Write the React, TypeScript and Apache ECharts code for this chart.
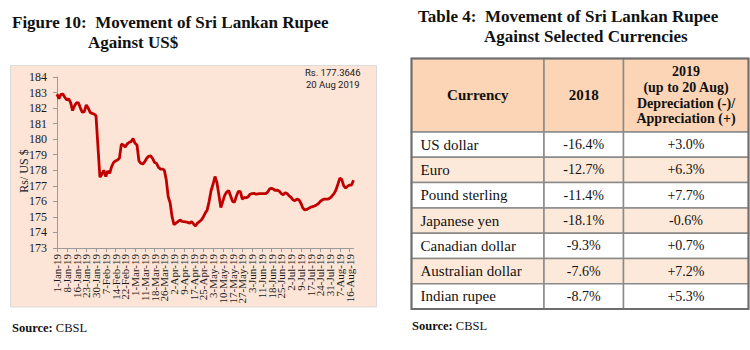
import React, { useEffect, useRef } from "react";
import * as echarts from "echarts";

const dates: string[] = [
  "1-Jan-19", "2-Jan-19", "3-Jan-19", "4-Jan-19", "7-Jan-19",
  "8-Jan-19", "9-Jan-19", "10-Jan-19", "11-Jan-19", "14-Jan-19",
  "16-Jan-19", "17-Jan-19", "18-Jan-19", "21-Jan-19", "22-Jan-19",
  "23-Jan-19", "24-Jan-19", "25-Jan-19", "28-Jan-19", "29-Jan-19",
  "30-Jan-19", "31-Jan-19", "1-Feb-19", "5-Feb-19", "6-Feb-19",
  "7-Feb-19", "8-Feb-19", "11-Feb-19", "12-Feb-19", "13-Feb-19",
  "14-Feb-19", "15-Feb-19", "18-Feb-19", "20-Feb-19", "21-Feb-19",
  "22-Feb-19", "25-Feb-19", "26-Feb-19", "27-Feb-19", "28-Feb-19",
  "1-Mar-19", "5-Mar-19", "6-Mar-19", "7-Mar-19", "8-Mar-19",
  "11-Mar-19", "12-Mar-19", "13-Mar-19", "14-Mar-19", "15-Mar-19",
  "18-Mar-19", "19-Mar-19", "21-Mar-19", "22-Mar-19", "25-Mar-19",
  "26-Mar-19", "27-Mar-19", "28-Mar-19", "29-Mar-19", "1-Apr-19",
  "2-Apr-19", "3-Apr-19", "4-Apr-19", "5-Apr-19", "8-Apr-19",
  "9-Apr-19", "10-Apr-19", "11-Apr-19", "12-Apr-19", "16-Apr-19",
  "17-Apr-19", "18-Apr-19", "22-Apr-19", "23-Apr-19", "24-Apr-19",
  "25-Apr-19", "26-Apr-19", "29-Apr-19", "30-Apr-19", "2-May-19",
  "3-May-19", "6-May-19", "7-May-19", "8-May-19", "9-May-19",
  "10-May-19", "13-May-19", "14-May-19", "15-May-19", "16-May-19",
  "17-May-19", "21-May-19", "22-May-19", "23-May-19", "24-May-19",
  "27-May-19", "28-May-19", "29-May-19", "30-May-19", "31-May-19",
  "3-Jun-19", "4-Jun-19", "6-Jun-19", "7-Jun-19", "10-Jun-19",
  "11-Jun-19", "12-Jun-19", "13-Jun-19", "14-Jun-19", "17-Jun-19",
  "18-Jun-19", "19-Jun-19", "20-Jun-19", "21-Jun-19", "24-Jun-19",
  "25-Jun-19", "26-Jun-19", "27-Jun-19", "28-Jun-19", "1-Jul-19",
  "2-Jul-19", "3-Jul-19", "4-Jul-19", "5-Jul-19", "8-Jul-19",
  "9-Jul-19", "10-Jul-19", "11-Jul-19", "12-Jul-19", "15-Jul-19",
  "17-Jul-19", "18-Jul-19", "19-Jul-19", "22-Jul-19", "23-Jul-19",
  "24-Jul-19", "25-Jul-19", "26-Jul-19", "29-Jul-19", "30-Jul-19",
  "31-Jul-19", "1-Aug-19", "2-Aug-19", "5-Aug-19", "6-Aug-19",
  "7-Aug-19", "8-Aug-19", "9-Aug-19", "13-Aug-19", "15-Aug-19",
  "16-Aug-19", "19-Aug-19", "20-Aug-19",
];

const rupeePerUsd: number[] = [
  182.9, 182.6, 182.88, 182.9, 182.7,
  182.52, 182.6, 182.35, 181.84, 182.15,
  182.35, 182.33, 182.0, 181.73, 181.77,
  182.2, 182.0, 181.72, 181.66, 181.62,
  181.5, 179.5, 177.55, 177.75, 178.0,
  177.6, 177.95, 177.8, 178.23, 178.5,
  178.6, 178.66, 178.77, 179.68, 179.63,
  179.5, 179.7, 179.8, 179.84, 180.05,
  179.74, 179.63, 178.6, 178.45, 178.4,
  178.55, 178.77, 178.9, 178.92, 178.77,
  178.5, 178.45, 178.2, 178.08, 178.08,
  178.02, 177.4, 176.3, 175.9, 175.0,
  174.5, 174.6, 174.7, 174.8, 174.72,
  174.7, 174.68, 174.65, 174.6, 174.7,
  174.55, 174.42, 174.6, 174.7, 174.8,
  175.0, 175.25, 175.45, 176.0, 176.7,
  177.1, 177.6, 177.2, 176.4, 175.6,
  176.0, 176.4, 176.6, 176.7, 176.35,
  176.0, 175.95, 176.35, 176.65, 176.62,
  176.15, 176.25, 176.22, 176.3, 176.46,
  176.5, 176.52, 176.46, 176.48, 176.5,
  176.5, 176.5, 176.5, 176.6, 176.8,
  176.84, 176.78, 176.7, 176.72, 176.65,
  176.5, 176.42, 176.55, 176.5, 176.35,
  176.26, 176.09, 176.05, 176.14, 176.1,
  175.9, 175.58, 175.45, 175.48, 175.55,
  175.62, 175.66, 175.7, 175.77, 175.85,
  176.0, 176.1, 176.14, 176.14, 176.15,
  176.22, 176.35, 176.5, 176.73, 177.1,
  177.5, 177.4, 177.0, 176.85, 176.98,
  177.05, 177.05, 177.3646,
];

const yMin = 173;
const yMax = 184;
const yStep = 1;
const labelEvery = 5;

const figureTitle = ["Figure 10:  Movement of Sri Lankan Rupee", "Against US$"];
const tableTitle = ["Table 4:  Movement of Sri Lankan Rupee", "Against Selected Currencies"];
const annotation = ["Rs. 177.3646", "20 Aug 2019"];
const yAxisName = "Rs/ US $";

const tableHeaders = ["Currency", "2018", "2019\n(up to 20 Aug)\nDepreciation (-)/\nAppreciation (+)"];
const currencies = ["US dollar", "Euro", "Pound sterling", "Japanese yen", "Canadian dollar", "Australian dollar", "Indian rupee"];
const change2018 = ["-16.4%", "-12.7%", "-11.4%", "-18.1%", "-9.3%", "-7.6%", "-8.7%"];
const change2019 = ["+3.0%", "+6.3%", "+7.7%", "-0.6%", "+0.7%", "+7.2%", "+5.3%"];

const SERIF = '"Liberation Serif", "Times New Roman", serif';
const SANS = 'Roboto, "Liberation Sans", sans-serif';

function buildTable(): any[] {
  const colX = [411.5, 544, 623.5, 748.5];
  const headTop = 58.5;
  const headBottom = 132;
  const rowH = 25.3;
  const gridStroke = "#8a8a8a";
  const els: any[] = [];
  for (let c = 0; c < 3; c++) {
    els.push({
      type: "rect",
      shape: { x: colX[c], y: headTop, width: colX[c + 1] - colX[c], height: headBottom - headTop },
      style: { fill: "#FBD5B5", stroke: gridStroke, lineWidth: 1.5 },
    });
    els.push({
      type: "text",
      x: (colX[c] + colX[c + 1]) / 2,
      y: (headTop + headBottom) / 2,
      style: {
        text: tableHeaders[c],
        fill: "#111",
        font: `bold ${c === 2 ? 14 : 15}px ${SERIF}`,
        lineHeight: 15.8,
        textAlign: "center",
        textVerticalAlign: "middle",
      },
    });
  }
  currencies.forEach((name, r) => {
    const y0 = headBottom + r * rowH;
    const fill = r % 2 === 1 ? "#FDE9D9" : "#FFFFFF";
    for (let c = 0; c < 3; c++) {
      els.push({
        type: "rect",
        shape: { x: colX[c], y: y0, width: colX[c + 1] - colX[c], height: rowH },
        style: { fill, stroke: gridStroke, lineWidth: 1.5 },
      });
    }
    els.push({
      type: "text",
      x: colX[0] + 9,
      y: y0 + rowH / 2,
      style: { text: name, fill: "#111", font: `15px ${SERIF}`, textAlign: "left", textVerticalAlign: "middle" },
    });
    els.push({
      type: "text",
      x: (colX[1] + colX[2]) / 2,
      y: y0 + rowH / 2,
      style: { text: change2018[r], fill: "#111", font: `14px ${SERIF}`, textAlign: "center", textVerticalAlign: "middle" },
    });
    els.push({
      type: "text",
      x: (colX[2] + colX[3]) / 2,
      y: y0 + rowH / 2,
      style: { text: change2019[r], fill: "#111", font: `14px ${SERIF}`, textAlign: "center", textVerticalAlign: "middle" },
    });
  });
  els.push({
    type: "rect",
    shape: { x: colX[0], y: headTop, width: colX[3] - colX[0], height: headBottom + rowH * currencies.length - headTop },
    style: { fill: "none", stroke: "#6e6e6e", lineWidth: 2 },
  });
  return els;
}

export default function App() {
  const ref = useRef<HTMLDivElement>(null);

  useEffect(() => {
    document.body.style.margin = "0";
    if (!ref.current) return;
    const chart = echarts.init(ref.current, undefined, { renderer: "svg" });

    const showIdx = (i: number) => i % labelEvery === 0;

    const option: any = {
      animation: false,
      backgroundColor: "#ffffff",
      grid: { left: 57, top: 77, right: 396.5, bottom: 102, containLabel: false, outerBoundsMode: "none" },
      xAxis: {
        type: "category",
        data: dates,
        boundaryGap: false,
        axisLine: { show: true, lineStyle: { color: "#9a9a9a", width: 1 } },
        axisTick: { show: true, interval: showIdx, length: 4, lineStyle: { color: "#9a9a9a" } },
        axisLabel: {
          interval: 0,
          formatter: (value: string, index: number) => (showIdx(index) ? value : ""),
          rotate: 90,
          margin: 6,
          color: "#1a1a1a",
          fontFamily: SERIF,
          fontSize: 11,
          hideOverlap: false,
        },
        splitLine: { show: false },
      },
      yAxis: {
        type: "value",
        min: yMin,
        max: yMax,
        interval: yStep,
        axisLine: { show: true, lineStyle: { color: "#9a9a9a", width: 1 } },
        axisTick: { show: true, length: 4, lineStyle: { color: "#9a9a9a" } },
        axisLabel: { color: "#1a1a1a", fontFamily: SERIF, fontSize: 12, margin: 10 },
        splitLine: { show: false },
      },
      series: [
        {
          type: "line",
          data: rupeePerUsd,
          showSymbol: false,
          symbol: "none",
          lineStyle: { color: "#C00000", width: 2.8 },
          z: 5,
        },
      ],
      graphic: {
        elements: [
          {
            type: "rect",
            z: -10,
            shape: { x: 10.5, y: 65.5, width: 366, height: 241.5 },
            style: { fill: "#FCE4D6", stroke: "#DADADA", lineWidth: 1 },
          },
          {
            type: "text",
            x: 12,
            y: 22,
            style: { text: figureTitle[0], fill: "#111", font: `bold 17px ${SERIF}`, textAlign: "left", textVerticalAlign: "middle" },
          },
          {
            type: "text",
            x: 88,
            y: 42,
            style: { text: figureTitle[1], fill: "#111", font: `bold 17px ${SERIF}`, textAlign: "left", textVerticalAlign: "middle" },
          },
          {
            type: "text",
            x: 418,
            y: 16,
            style: { text: tableTitle[0], fill: "#111", font: `bold 17px ${SERIF}`, textAlign: "left", textVerticalAlign: "middle" },
          },
          {
            type: "text",
            x: 484,
            y: 36,
            style: { text: tableTitle[1], fill: "#111", font: `bold 17px ${SERIF}`, textAlign: "left", textVerticalAlign: "middle" },
          },
          {
            type: "text",
            x: 305,
            y: 72,
            style: { text: annotation[0], fill: "#1a1a1a", font: `9.5px ${SANS}`, textAlign: "left", textVerticalAlign: "middle" },
          },
          {
            type: "text",
            x: 306,
            y: 84.5,
            style: { text: annotation[1], fill: "#1a1a1a", font: `9.5px ${SANS}`, textAlign: "left", textVerticalAlign: "middle" },
          },
          {
            type: "text",
            x: 24,
            y: 171,
            rotation: Math.PI / 2,
            style: { text: yAxisName, fill: "#1a1a1a", font: `12px ${SERIF}`, textAlign: "center", textVerticalAlign: "middle" },
          },
          {
            type: "text",
            x: 12,
            y: 328,
            style: {
              text: "{b|Source:} CBSL",
              fill: "#111",
              font: `12.5px ${SERIF}`,
              textAlign: "left",
              textVerticalAlign: "middle",
              rich: { b: { fontWeight: "bold", fontFamily: SERIF, fontSize: 12.5, fill: "#111" } },
            },
          },
          {
            type: "text",
            x: 412,
            y: 326,
            style: {
              text: "{b|Source:} CBSL",
              fill: "#111",
              font: `12.5px ${SERIF}`,
              textAlign: "left",
              textVerticalAlign: "middle",
              rich: { b: { fontWeight: "bold", fontFamily: SERIF, fontSize: 12.5, fill: "#111" } },
            },
          },
          ...buildTable(),
        ],
      },
    };

    chart.setOption(option);
    return () => chart.dispose();
  }, []);

  return <div ref={ref} style={{ width: 750, height: 350 }} />;
}
